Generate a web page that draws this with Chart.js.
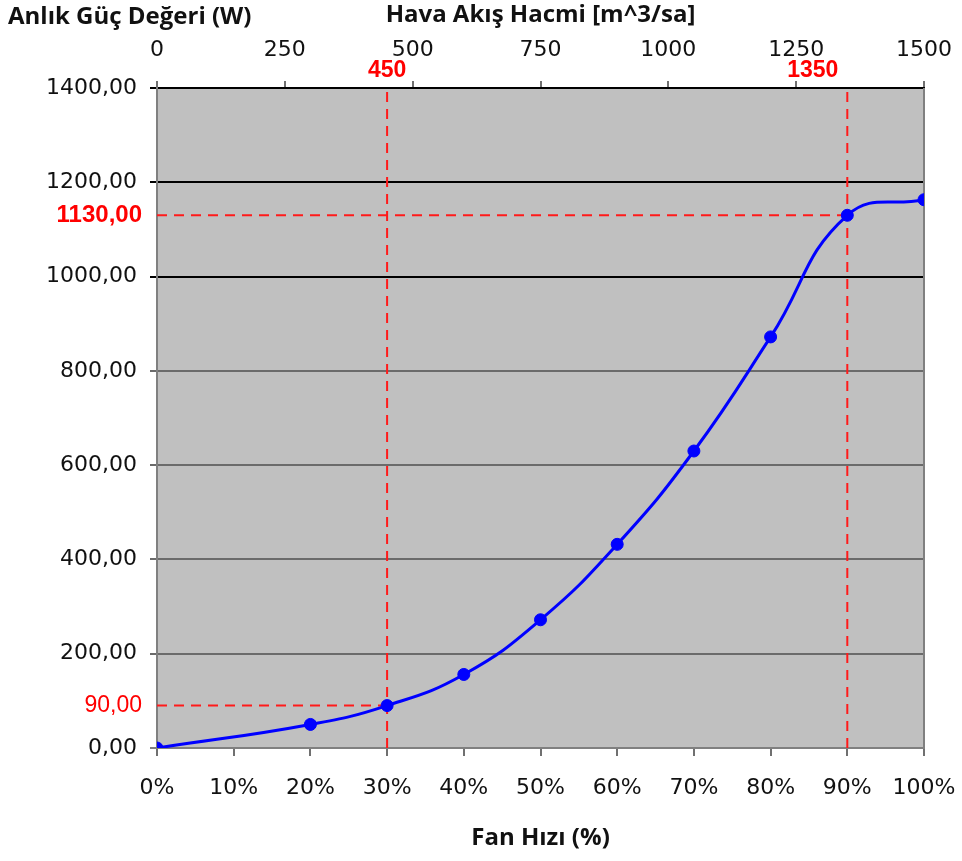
<!doctype html>
<html>
<head>
<meta charset="utf-8">
<title>Fan Hızı - Anlık Güç Değeri</title>
<script src="https://cdn.jsdelivr.net/npm/chart.js@4.4.1/dist/chart.umd.min.js"></script>
<style>
  html, body { margin: 0; padding: 0; background: #fff; }
</style>
</head>
<body>
<canvas id="fanChart" width="962" height="861"></canvas>
<script>
  // measured points (fan speed % -> power W)
  const fanSpeed = [0, 20, 30, 40, 50, 60, 70, 80, 90, 100];
  const power = [0, 50, 90, 156, 272, 432, 630, 872, 1130, 1163];

  // red reference lines
  const markerFan = [30, 90];
  const markerPower = [90, 1130];
  const markerFlow = [450, 1350];

  const powerMin = 0, powerMax = 1400, powerStep = 200;
  const fanMin = 0, fanMax = 100, fanStep = 10;
  const flowMin = 0, flowMax = 1500, flowStep = 250;

  const fmt = (v) => v.toFixed(2).replace('.', ',');
  const tickFont = { family: 'DejaVu Sans', size: 22 };
  const titleFont = { family: 'Open Sans', size: 24, weight: 'bold' };

  const dashed = {
    borderColor: '#ff1a1a',
    borderWidth: 2,
    borderDash: [10, 7],
    pointRadius: 0,
    tension: 0,
    fill: false
  };

  const datasets = [{
    label: 'Anlık Güç',
    data: fanSpeed.map((f, i) => ({ x: f, y: power[i] })),
    borderColor: '#0000ff',
    backgroundColor: '#0000ff',
    borderWidth: 3,
    pointRadius: 6,
    pointBorderWidth: 1,
    tension: 0.45
  }];
  markerFan.forEach((f, i) => {
    datasets.push({ ...dashed, data: [{ x: fanMin, y: markerPower[i] }, { x: f, y: markerPower[i] }] });
    datasets.push({ ...dashed, data: [{ x: f, y: powerMin }, { x: f, y: powerMax }] });
  });

  // horizontal axes: fixed height, no automatic side padding
  const fixHeight = (h) => (s) => {
    s.height = h;
    s.paddingLeft = 0;
    s.paddingRight = 0;
  };

  const excelLook = {
    id: 'excelLook',
    beforeDraw(chart) {
      const { ctx, chartArea: a } = chart;
      ctx.save();
      ctx.fillStyle = '#fff';
      ctx.fillRect(0, 0, chart.width, chart.height);
      ctx.fillStyle = '#c0c0c0';
      ctx.fillRect(a.left, a.top, a.right - a.left, a.bottom - a.top);
      ctx.restore();
    },
    beforeDatasetsDraw(chart) {
      const { ctx, chartArea: a } = chart;
      ctx.save();
      ctx.strokeStyle = '#808080';
      ctx.lineWidth = 2;
      ctx.beginPath();
      ctx.moveTo(a.right, a.top);
      ctx.lineTo(a.right, a.bottom);
      ctx.stroke();
      ctx.restore();
    },
    afterDraw(chart) {
      const { ctx, chartArea: a, scales } = chart;
      ctx.save();
      // y axis title, top left
      ctx.fillStyle = '#111';
      ctx.font = 'bold 24px "Open Sans"';
      ctx.textAlign = 'left';
      ctx.textBaseline = 'middle';
      ctx.fillText('Anlık Güç Değeri (W)', 8, 17);

      ctx.fillStyle = '#ff0000';
      // red power labels on the y axis
      ctx.textAlign = 'right';
      markerPower.forEach((p, i) => {
        ctx.font = (i === 1 ? 'bold 24px' : '23px') + ' "Liberation Sans"';
        ctx.fillText(fmt(p), a.left - 15, scales.y.getPixelForValue(p));
      });
      // red flow labels above the plot
      ctx.font = 'bold 23px "Liberation Sans"';
      markerFan.forEach((f, i) => {
        const x = scales.x.getPixelForValue(f);
        ctx.textAlign = i === 0 ? 'center' : 'right';
        ctx.fillText(String(markerFlow[i]), i === 0 ? x : x - 9, 71);
      });
      ctx.restore();
    }
  };

  const ctx = document.getElementById('fanChart').getContext('2d');
  new Chart(ctx, {
    type: 'line',
    data: { datasets },
    plugins: [excelLook],
    options: {
      responsive: false,
      animation: false,
      layout: { padding: { left: 0, top: 0, bottom: 0, right: 38 } },
      plugins: {
        legend: { display: false },
        tooltip: { enabled: false }
      },
      scales: {
        x: {
          type: 'linear',
          position: 'bottom',
          min: fanMin,
          max: fanMax,
          afterFit: fixHeight(113),
          grid: { drawOnChartArea: false, color: '#707070', lineWidth: 2, tickLength: 8 },
          border: { color: '#808080', width: 2 },
          ticks: {
            stepSize: fanStep,
            padding: 19,
            color: '#111',
            font: tickFont,
            maxRotation: 0,
            callback: (v) => v + '%'
          },
          title: {
            display: true,
            text: 'Fan Hızı (%)',
            color: '#111',
            font: titleFont,
            padding: { top: 0, bottom: 8 }
          }
        },
        x2: {
          type: 'linear',
          axis: 'x',
          position: 'top',
          min: flowMin,
          max: flowMax,
          afterFit: fixHeight(88),
          grid: { drawOnChartArea: false, color: '#707070', lineWidth: 2, tickLength: 7 },
          border: { color: '#000', width: 2 },
          ticks: {
            stepSize: flowStep,
            padding: 18,
            color: '#111',
            font: tickFont,
            maxRotation: 0,
            callback: (v) => String(v)
          },
          title: {
            display: true,
            text: 'Hava Akış Hacmi [m^3/sa]',
            color: '#111',
            font: titleFont,
            padding: { top: 1, bottom: 0 }
          }
        },
        y: {
          min: powerMin,
          max: powerMax,
          afterFit: (s) => { s.width = 157; },
          grid: {
            color: (c) => c.tick && c.tick.value >= 1000 ? '#000' : (c.tick && c.tick.value === 0 ? '#808080' : '#6b6b6b'),
            lineWidth: 2,
            tickLength: 7
          },
          border: { color: '#808080', width: 2 },
          ticks: {
            stepSize: powerStep,
            padding: 13,
            color: '#111',
            font: tickFont,
            callback: (v) => fmt(v)
          }
        }
      }
    }
  });
</script>
</body>
</html>
